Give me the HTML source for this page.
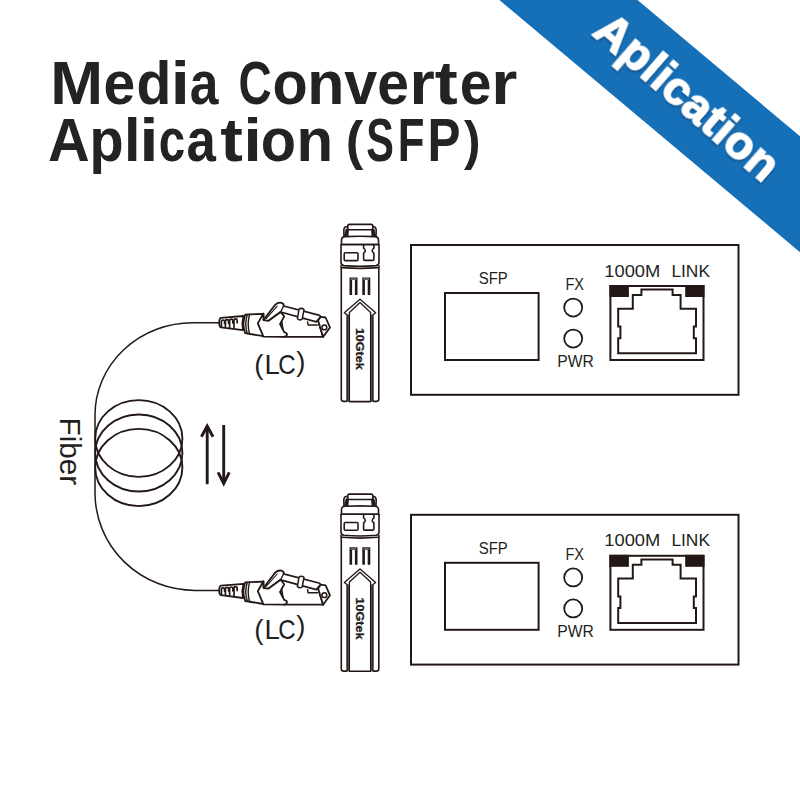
<!DOCTYPE html>
<html>
<head>
<meta charset="utf-8">
<style>
html,body{margin:0;padding:0;background:#fff;width:800px;height:800px;overflow:hidden;}
svg{display:block;}
text{font-family:"Liberation Sans",sans-serif;}
</style>
</head>
<body>
<svg width="800" height="800" viewBox="0 0 800 800">
<defs>
  <filter id="sh" x="-10%" y="-10%" width="130%" height="130%">
    <feDropShadow dx="1" dy="1.2" stdDeviation="0.8" flood-color="#0a2a50" flood-opacity="0.55"/>
  </filter>

  <!-- SFP module (upper position) -->
  <g id="sfp" fill="none" stroke="#231815" stroke-width="1.6" stroke-linejoin="round" stroke-linecap="round">
    <!-- bail -->
    <path d="M344 237 L343.8 230 Q344 226.5 347.5 226.5" />
    <path d="M376 237 L376.2 230 Q376 226.5 372.5 226.5" />
    <path d="M344.5 236 L346 229 L348.5 229.5 L348 236 Z" fill="#231815" stroke-width="0.8"/>
    <path d="M375.5 236 L374 229 L371.5 229.5 L372 236 Z" fill="#231815" stroke-width="0.8"/>
    <rect x="347.8" y="224.4" width="25" height="5.4" rx="1.6" fill="#fff"/>
    <!-- top cap -->
    <path d="M341.5 244.6 L341.5 240 Q341.5 236.8 345 236.6 Q360 235.8 375 236.6 Q378.5 236.8 378.5 240 L378.5 244.6 Z" fill="#fff"/>
    <!-- head -->
    <path d="M341 244.6 L379 244.6 L379 262 Q379 265.2 376 265.6 Q360 267 344 265.6 Q341 265.2 341 262 Z" fill="#fff"/>
    <rect x="344.2" y="252.8" width="13.8" height="7.8" rx="1.2"/>
    <path d="M363.6 244.8 V248.2 C365.8 249.6 365.8 251.8 363.6 253.2 V259.2 Q363.6 260.4 364.8 260.4 H372.7 Q373.9 260.4 373.9 259.2 V253.2 C371.7 251.8 371.7 249.6 373.9 248.2 V244.8"/>
    <!-- body -->
    <path d="M341 265.8 Q341.3 268.5 341.3 272 L341.3 399 Q341.3 401.4 344 401.4 L346.6 401.4"/>
    <path d="M379 265.8 Q378.8 268.5 378.8 272 L378.8 399 Q378.8 401.4 376.2 401.4 L373.4 401.4"/>
    <path d="M342 267.6 Q360 269.2 378 267.6"/>
    <!-- slots -->
    <path d="M350.8 295 L350.8 278.8 L356.2 278.8 L356.2 295" stroke-width="2.6" stroke-linejoin="miter" stroke-linecap="butt"/>
    <path d="M363.6 295 L363.6 278.8 L369 278.8 L369 295" stroke-width="2.6" stroke-linejoin="miter" stroke-linecap="butt"/>
    <rect x="350.6" y="278" width="5.8" height="2" fill="#6b6463" stroke="none"/>
    <rect x="363.4" y="278" width="5.8" height="2" fill="#6b6463" stroke="none"/>
    <!-- arrow -->
    <rect x="347" y="314.6" width="2.4" height="86.8" fill="#5a5352" stroke="none"/>
    <rect x="370.6" y="314.6" width="2.4" height="86.8" fill="#5a5352" stroke="none"/>
    <path d="M347 401.4 L347 314.8 L344.3 312.8 L360 299.3 L375.7 312.8 L373 314.8 L373 401.4" stroke-width="1.3"/>
    <path d="M349.4 401.4 L349.4 312.4 L360 302.6 L370.6 312.4 L370.6 401.4" stroke-width="1.3"/>
    <path d="M349.4 401.6 L370.6 401.6" />
  </g>

  <!-- LC connector (upper position) -->
  <g id="lc" fill="#fff" stroke="#231815" stroke-width="1.8" stroke-linejoin="round" stroke-linecap="round">
    <!-- boot -->
    <path d="M243.5 316 L221 317.8 Q219.2 318.2 219.2 322.8 Q219.2 327 221 327.3 L243 330.2 Q241.5 323 243.5 316 Z"/>
    <path d="M221.4 326.4 V321.4 Q221.4 320 223 320 Q224.6 320 224.6 321.6 V323.4 M225.4 326.8 V321 Q225.4 319.6 227 319.6 Q228.6 319.6 228.6 321.2 V323.2 M229.6 327.3 V320.6 Q229.6 319.2 231.2 319.2 Q232.8 319.2 232.8 320.8 V323 M234 327.8 V320.2 Q234 318.8 235.6 318.8 Q237.2 318.8 237.2 320.4 V322.8" fill="none" stroke-width="1.7"/>
    <!-- collar + body -->
    <path d="M245.2 314.6 L263.4 313.8 L263.4 336.2 L245.2 333.2 Q241.6 323.8 245.2 314.6 Z"/>
    <path d="M247.3 314.5 Q244.2 324 247.3 333.6 M249.6 314.3 Q246.8 324.2 249.6 334" fill="none" stroke-width="1.4"/>
    <!-- housing -->
    <path d="M280 312 L320.6 316.9 L318.1 320.6 L323.1 336.9 L284 336.9 Z"/>
    <!-- latch arm -->
    <path d="M263.2 320.4 L275.2 304.8 Q277.8 302.2 281.4 302.8 Q284.2 303.6 283.6 306 L318.8 315.2 Q320.4 315.6 320.6 316.9 L316.3 321.9 L280.6 312 L267.6 321.4 Z"/>
    <path d="M283.6 306 L280.6 312" fill="none" stroke-width="1.4"/>
    <path d="M266.2 318.6 L277.2 306.2" fill="none" stroke-width="1.1"/>
    <!-- ring -->
    <path d="M299 309.2 Q301.6 307.4 304 309.6 L302.2 319.2 Q299.8 321 297.4 318.8 Z" stroke-width="1.5"/>
    <!-- step -->
    <path d="M307.6 321.9 L308.1 325 L317.4 325" fill="none" stroke-width="1.5"/>
    <!-- clip -->
    <path d="M263.4 313.4 L257.8 323.4 L263.4 336.6 L284.2 336.9 Q288.2 335.4 286.6 333.2 L284.2 332.1 L280 324.2 L284.2 316.4 L280.6 312 L268.6 320.8 L263.4 320.2 Z"/>
    <!-- front face -->
    <path d="M320.6 316.9 L325.6 317.5 L330 327.5 L323.1 336.9 L318.1 320.6 Z"/>
    <circle cx="324.4" cy="327.4" r="2.4" fill="#fff" stroke-width="1.5"/>
  </g>

  <!-- Media converter box (upper position) -->
  <g id="box">
    <rect x="411" y="245" width="327.5" height="149.8" fill="none" stroke="#231815" stroke-width="2"/>
    <rect x="445" y="293" width="93.6" height="67" fill="none" stroke="#231815" stroke-width="2"/>
    <circle cx="573.2" cy="307.6" r="9" fill="none" stroke="#231815" stroke-width="1.8"/>
    <circle cx="573.2" cy="338.6" r="9" fill="none" stroke="#231815" stroke-width="1.8"/>
    <rect x="610.4" y="286" width="93.1" height="74" fill="none" stroke="#231815" stroke-width="2"/>
    <rect x="609.4" y="285" width="19.5" height="12" fill="#231815"/>
    <rect x="685.2" y="285" width="19.3" height="12" fill="#231815"/>
    <path d="M618.2 353.2 L618.2 338.2 L620.4 338.2 L620.4 326.6 L618.2 326.6 L618.2 308.7 L632.8 308.7 L632.8 294.9 L641.4 294.9 L641.4 289.6 L672.6 289.6 L672.6 294.9 L680.6 294.9 L680.6 308.7 L696 308.7 L696 326.6 L693.8 326.6 L693.8 338.2 L696 338.2 L696 353.2 Z" fill="none" stroke="#231815" stroke-width="2" stroke-linejoin="miter"/>
    <g fill="#231f20" font-size="16.8">
      <text x="478.8" y="284" textLength="29" lengthAdjust="spacingAndGlyphs">SFP</text>
      <text x="565.4" y="290.2" textLength="18.6" lengthAdjust="spacingAndGlyphs">FX</text>
      <text x="557.2" y="367.2" textLength="36.6" lengthAdjust="spacingAndGlyphs">PWR</text>
      <text x="604.3" y="276.6" textLength="56" lengthAdjust="spacingAndGlyphs">1000M</text>
      <text x="671.4" y="276.6" textLength="38.6" lengthAdjust="spacingAndGlyphs">LINK</text>
    </g>
  </g>
</defs>

<!-- Ribbon -->
<polygon points="499.4,0 637.5,0 800,136.3 800,252.2" fill="#1570b8"/>
<text x="591.2" y="34" transform="rotate(41 591.2 34)" font-size="46" font-weight="bold" fill="#fff" stroke="#fff" stroke-width="1.5" filter="url(#sh)" textLength="228" lengthAdjust="spacing">Aplication</text>

<!-- Title -->
<g fill="#232323" font-weight="bold" font-size="60.3">
<text x="50.16" y="104" textLength="52.84" lengthAdjust="spacingAndGlyphs">M</text>
<text x="103.38" y="104" textLength="31.67" lengthAdjust="spacingAndGlyphs">e</text>
<text x="136.41" y="104" textLength="34.85" lengthAdjust="spacingAndGlyphs">d</text>
<text x="170.82" y="104" textLength="19.03" lengthAdjust="spacingAndGlyphs">i</text>
<text x="189.74" y="104" textLength="28.68" lengthAdjust="spacingAndGlyphs">a</text>
<text x="238.52" y="104" textLength="33.14" lengthAdjust="spacingAndGlyphs">C</text>
<text x="272.50" y="104" textLength="35.14" lengthAdjust="spacingAndGlyphs">o</text>
<text x="307.24" y="104" textLength="37.13" lengthAdjust="spacingAndGlyphs">n</text>
<text x="344.17" y="104" textLength="32.99" lengthAdjust="spacingAndGlyphs">v</text>
<text x="377.18" y="104" textLength="31.67" lengthAdjust="spacingAndGlyphs">e</text>
<text x="409.47" y="104" textLength="25.26" lengthAdjust="spacingAndGlyphs">r</text>
<text x="434.76" y="104" textLength="22.99" lengthAdjust="spacingAndGlyphs">t</text>
<text x="459.68" y="104" textLength="31.67" lengthAdjust="spacingAndGlyphs">e</text>
<text x="491.18" y="104" textLength="26.08" lengthAdjust="spacingAndGlyphs">r</text>
<text x="47.96" y="160.5" textLength="41.66" lengthAdjust="spacingAndGlyphs">A</text>
<text x="89.42" y="160.5" textLength="34.12" lengthAdjust="spacingAndGlyphs">p</text>
<text x="123.95" y="160.5" textLength="16.50" lengthAdjust="spacingAndGlyphs">l</text>
<text x="139.64" y="160.5" textLength="18.93" lengthAdjust="spacingAndGlyphs">i</text>
<text x="158.75" y="160.5" textLength="26.39" lengthAdjust="spacingAndGlyphs">c</text>
<text x="186.55" y="160.5" textLength="29.36" lengthAdjust="spacingAndGlyphs">a</text>
<text x="220.17" y="160.5" textLength="22.66" lengthAdjust="spacingAndGlyphs">t</text>
<text x="243.42" y="160.5" textLength="18.22" lengthAdjust="spacingAndGlyphs">i</text>
<text x="260.75" y="160.5" textLength="35.26" lengthAdjust="spacingAndGlyphs">o</text>
<text x="296.54" y="160.5" textLength="36.68" lengthAdjust="spacingAndGlyphs">n</text>
<text x="366.21" y="160.5" textLength="27.67" lengthAdjust="spacingAndGlyphs">S</text>
<text x="397.77" y="160.5" textLength="26.73" lengthAdjust="spacingAndGlyphs">F</text>
<text x="427.44" y="160.5" textLength="33.00" lengthAdjust="spacingAndGlyphs">P</text>
<text x="345.87" y="158.7" textLength="17.58" lengthAdjust="spacingAndGlyphs" font-size="53.5">(</text>
<text x="463.95" y="158.7" textLength="16.52" lengthAdjust="spacingAndGlyphs" font-size="53.5">)</text>
</g>

<!-- Fiber -->
<path d="M219 322.8 H192.6 A97.6 92.4 0 0 0 95 415 V493 A100 97.4 0 0 0 195 590.4 H219.5" fill="none" stroke="#231815" stroke-width="1.5"/>
<g fill="none" stroke="#231815" stroke-width="1.9">
  <ellipse cx="138.8" cy="438.5" rx="43.6" ry="38.4"/>
  <ellipse cx="138.8" cy="453" rx="43.6" ry="38.5"/>
  <ellipse cx="138.8" cy="467.5" rx="43.6" ry="38.6"/>
</g>
<text x="417.6" y="-60" transform="rotate(90)" font-size="30" fill="#231f20" textLength="67.6" lengthAdjust="spacingAndGlyphs">Fiber</text>

<!-- arrows -->
<g fill="none" stroke="#231815" stroke-width="2.9" stroke-linecap="butt" stroke-linejoin="miter">
  <path d="M207.2 484.2 V426"/>
  <path d="M201.4 436.8 L207.2 426 L213 436.8"/>
  <path d="M223.7 425 V483.6"/>
  <path d="M218.1 472.4 L223.7 483.6 L229.3 472.4"/>
</g>

<use href="#sfp"/>
<use href="#sfp" transform="translate(0,269.7)"/>
<use href="#lc"/>
<use href="#lc" transform="translate(0,267.8)"/>
<use href="#box"/>
<use href="#box" transform="translate(0,269.8)"/>

<!-- 10Gtek labels -->
<g font-weight="bold" font-size="11.6" fill="#231815" stroke="#231815" stroke-width="0.3">
  <text x="327.9" y="-355.9" transform="rotate(90)" textLength="41.8" lengthAdjust="spacingAndGlyphs">10Gtek</text>
  <text x="597.6" y="-355.9" transform="rotate(90)" textLength="41.8" lengthAdjust="spacingAndGlyphs">10Gtek</text>
</g>
<!-- LC labels -->
<g id="lct" font-size="27.5" fill="#231f20">
  <text x="254.3" y="374.4">(</text>
  <text x="264.4" y="374.4">L</text>
  <text x="278.2" y="374.4" textLength="17.4" lengthAdjust="spacingAndGlyphs">C</text>
  <text x="296.2" y="371.2">)</text>
</g>
<use href="#lct" transform="translate(0,264.2)"/>
</svg>
</body>
</html>
